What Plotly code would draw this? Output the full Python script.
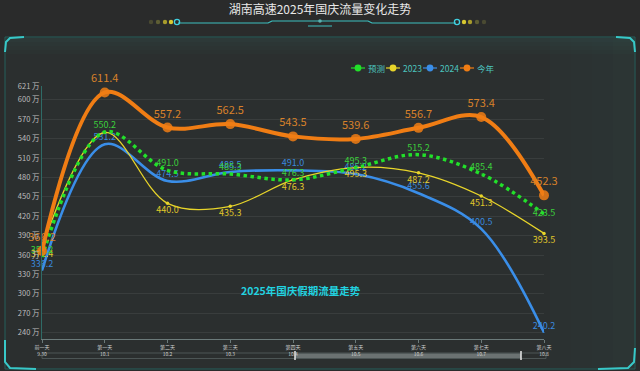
import plotly.graph_objects as go

categories = ["前一天<br>9.30", "第一天<br>10.1", "第二天<br>10.2", "第三天<br>10.3", "第四天<br>10.4",
              "第五天<br>10.5", "第六天<br>10.6", "第七天<br>10.7", "第八天<br>10.8"]
forecast = [357.2, 550.2, 491.0, 485.3, 476.3, 495.3, 515.2, 485.4, 423.5]
y2023 = [372.4, 549.5, 440.0, 435.3, 476.3, 495.3, 487.2, 451.3, 393.5]
y2024 = [336.2, 531.2, 474.5, 488.5, 491.0, 485.2, 455.6, 400.5, 240.2]
this_year = [366.2, 611.4, 557.2, 562.5, 543.5, 539.6, 556.7, 573.4, 452.3]
ytick_vals = [240, 270, 300, 330, 360, 390, 420, 450, 480, 510, 540, 570, 600, 621]
ytick_text = [f"{v} 万" for v in ytick_vals]
series_names = ["预测", "2023", "2024", "今年"]

x = list(range(len(categories)))
FONT = "Noto Sans CJK SC"
COLORS = ["#22e02a", "#e8d52a", "#3a8ee8", "#f07d14"]

# plot area in figure pixels
L, T, R, B = 42, 86, 544, 339
W, H = R - L, B - T

def px(X, Y):
    return (X - L) / W, (B - Y) / H

fig = go.Figure()

def add(name, vals, color, width, dash, msize, tcolor, tsize, tpos, mop=1.0, hide=()):
    txt = ["" if i in hide else f"{v:.1f}" for i, v in enumerate(vals)]
    fig.add_trace(go.Scatter(
        x=x, y=vals, name=name, mode="lines+markers+text",
        line=dict(color=color, width=width, dash=dash, shape="spline", smoothing=1.0),
        marker=dict(color=color, size=msize, opacity=mop),
        text=txt, textposition=tpos,
        textfont=dict(color=tcolor, size=tsize, family=FONT),
        cliponaxis=False, showlegend=False,
    ))

add("2024", y2024, COLORS[2], 2.6, "solid", 1, "#3a88dd", 9, "top center")
add("2023", y2023, COLORS[1], 1.3, "solid", 3.5, "#e0c82a", 9, "bottom center", hide=(1,))
add("预测", forecast, COLORS[0], 3.5, "dot", 1, "#3ccf3c", 9,
    ["top center"] * 8 + ["middle center"])
add("今年", this_year, COLORS[3], 4, "solid", 10, "#d8812a", 11, "top center", 0.85)

shapes = []

def rect(x0, y0, x1, y1, fill, line=None, lw=0):
    a0, b1 = px(x0, y0)
    a1, b0 = px(x1, y1)
    shapes.append(dict(type="rect", xref="paper", yref="paper", x0=a0, x1=a1, y0=b0, y1=b1,
                       layer="below", fillcolor=fill,
                       line=dict(width=lw, color=line or "rgba(0,0,0,0)")))

def path(pts, color, width):
    d = ""
    for i, (a, b) in enumerate(pts):
        xx, yy = px(a, b)
        d += ("M" if i == 0 else "L") + f"{xx:.5f},{yy:.5f} "
    shapes.append(dict(type="path", xref="paper", yref="paper", path=d,
                       line=dict(color=color, width=width), layer="below"))

def circle(cx, cy, r, fill, line=None, lw=0):
    a0, b0 = px(cx - r, cy + r)
    a1, b1 = px(cx + r, cy - r)
    shapes.append(dict(type="circle", xref="paper", yref="paper", x0=a0, x1=a1, y0=b0, y1=b1,
                       fillcolor=fill, line=dict(width=lw, color=line or "rgba(0,0,0,0)"),
                       layer="below"))

# panel
rect(5, 37, 635, 369, "#2b2f2f", "#24605c", 1)
for i, op in enumerate([0.10, 0.07, 0.05, 0.03]):
    rect(6, 38 + i * 4, 634, 42 + i * 4, f"rgba(70,150,140,{op})")
for i, op in enumerate([0.03, 0.05, 0.07, 0.09]):
    rect(550 + i * 21, 38, 571 + i * 21, 368, f"rgba(60,120,112,{op})")
# corner accents
path([(5, 52), (6, 42), (10, 38), (24, 37)], "#38c8c8", 2)
path([(616, 37), (630, 38), (634, 42), (635, 52)], "#38c8c8", 2)
path([(5, 340), (5, 362), (10, 368), (36, 369)], "#38c8c8", 2)
path([(598, 369), (628, 368), (634, 362), (635, 348)], "#38c8c8", 2)
# title decoration
path([(178, 23), (268, 23), (272, 21), (368, 21), (372, 23), (456, 23)], "#3cc0c0", 1.2)
path([(308, 26), (332, 26)], "#3cc0c0", 1)
circle(320, 21, 1.8, "#5ab0b0")
for cx, col in [(151, "#4a4a32"), (158, "#5e5e34"), (165, "#a89c2c"), (171, "#d8c830"),
                (464, "#d8c830"), (470, "#a89c2c"), (477, "#5e5e34"), (484, "#4a4a32")]:
    circle(cx, 22, 2.2, col)
for cx in [177, 457]:
    circle(cx, 22, 2.6, "rgba(0,0,0,0)", "#40d0e0", 1.3)
# data zoom slider
rect(42, 353, 546, 358.5, "rgba(0,0,0,0)", "#56605f", 0.8)
rect(295, 353.5, 521, 358, "#6b7272")
path([(295, 351), (295, 360)], "#e8e8e8", 1.5)
path([(521, 351), (521, 360)], "#e8e8e8", 1.5)

# manual legend
annotations = []
leg_x = [358, 393, 430, 467]
for nm, cx, col in zip(series_names, leg_x, COLORS):
    path([(cx - 7, 68), (cx + 7, 68)], col, 1.2)
    circle(cx, 68, 3.4, col)
    annotations.append(dict(text=nm, xref="paper", yref="paper", x=px(cx + 8, 68)[0],
                            y=px(cx, 68)[1], xanchor="left", yanchor="middle", showarrow=False,
                            font=dict(size=8.5, color="#4cc4bf", family=FONT)))

annotations.append(dict(text="<b>2025年国庆假期流量走势</b>", xref="paper", yref="paper",
                        x=px(301, 0)[0], y=px(0, 300)[1], showarrow=False,
                        font=dict(size=10.5, color="#22d3e0", family=FONT)))

fig.update_layout(
    width=640, height=371,
    margin=dict(l=L, r=640 - R, t=T, b=371 - B),
    paper_bgcolor="#2a2b2b", plot_bgcolor="rgba(0,0,0,0)",
    font=dict(family=FONT, color="#c8c8c8"),
    shapes=shapes, annotations=annotations,
    showlegend=False,
    title=dict(text="湖南高速2025年国庆流量变化走势", x=320 / 640, xref="container",
               xanchor="center", y=1 - 10 / 371, yref="container", yanchor="middle",
               font=dict(size=12, color="#e8e8e8", family=FONT)),
)
fig.update_xaxes(range=[0, 8], tickvals=x, ticktext=categories, showgrid=False,
                 zeroline=False, showline=True, linecolor="#6b7a7a", linewidth=1,
                 ticks="outside", ticklen=3, tickcolor="#6b7a7a", automargin=False,
                 tickfont=dict(size=5, color="#cfcfcf"))
fig.update_yaxes(range=[230.2, 621.4], tickvals=ytick_vals, ticktext=ytick_text,
                 showgrid=True, gridcolor="#393d3d", gridwidth=1, zeroline=False,
                 showline=True, linecolor="#2f6b66", linewidth=1, automargin=False,
                 tickfont=dict(size=7.5, color="#bdbdbd"))

fig.write_html("out.html", config={"displayModeBar": False},
               post_script="document.body.style.margin='0';"
               "document.body.style.background='#2a2b2b';")
